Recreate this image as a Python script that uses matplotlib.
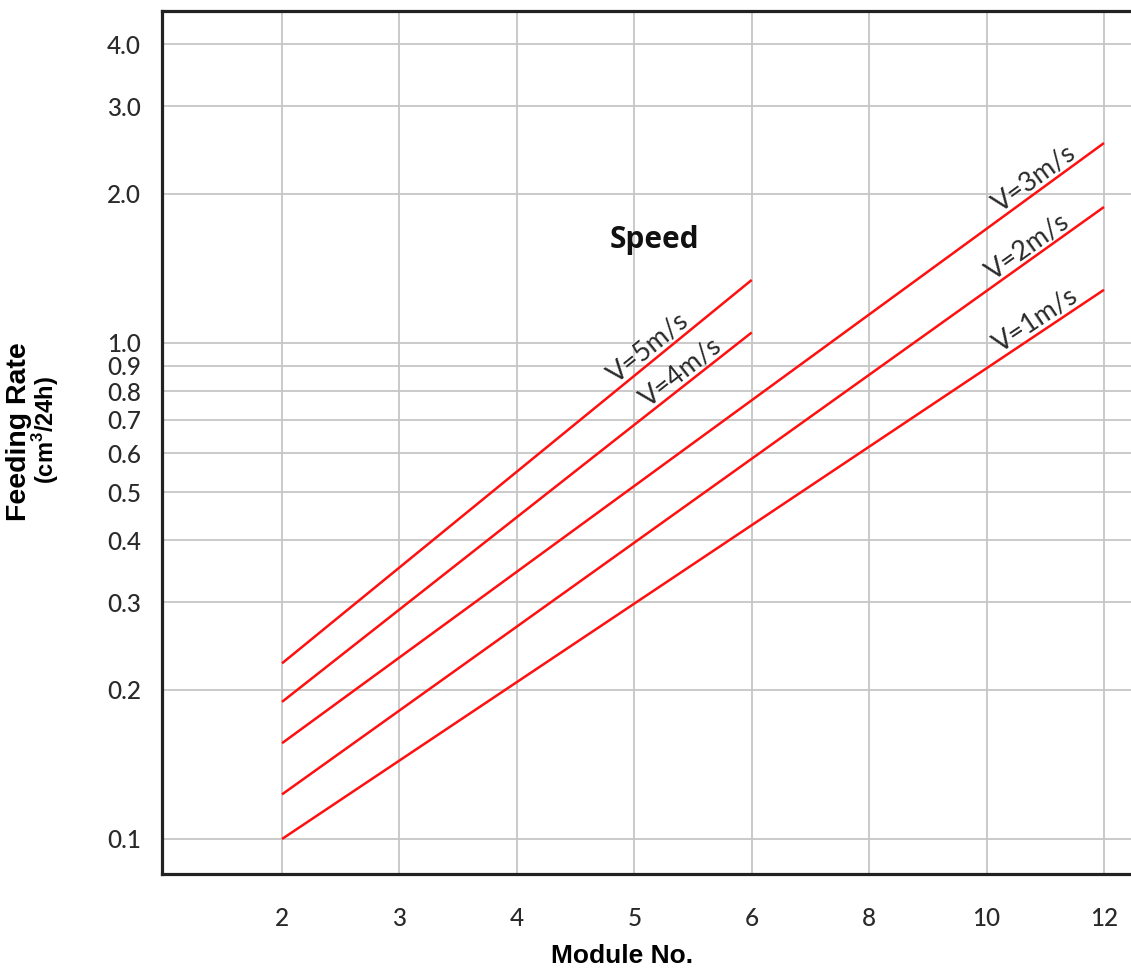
import matplotlib
matplotlib.use('Agg')
import matplotlib.pyplot as plt
import numpy as np

plt.rcParams['mathtext.fontset'] = 'custom'
plt.rcParams['mathtext.rm'] = 'Liberation Sans:bold'

# module numbers are spaced evenly on the x axis
modules = ['2', '3', '4', '5', '6', '8', '10', '12']
y_ticks = [0.1, 0.2, 0.3, 0.4, 0.5, 0.6, 0.7, 0.8, 0.9, 1.0, 2.0, 3.0, 4.0]
y_labels = ['0.1', '0.2', '0.3', '0.4', '0.5', '0.6', '0.7', '0.8', '0.9', '1.0', '2.0', '3.0', '4.0']

speeds = ['V=5m/s', 'V=4m/s', 'V=3m/s', 'V=2m/s', 'V=1m/s']
start_module = ['2', '2', '2', '2', '2']
end_module = ['6', '6', '12', '12', '12']
start_rate = [0.226, 0.189, 0.156, 0.123, 0.100]
end_rate = [1.34, 1.05, 2.53, 1.88, 1.28]
# where along the x axis each speed label sits
label_pos = [3.19, 3.46, 6.47, 6.41, 6.48]

W, H = 1131, 969
fig = plt.figure(figsize=(W / 100, H / 100), dpi=100)
ax = fig.add_axes([162 / W, (H - 874) / H, (W - 162) / W, (874 - 11) / H])

ax.set_yscale('log')
ax.set_xlim(-1.022, 7.23)
ax.set_ylim(0.0850, 4.67)

for i in range(len(speeds)):
    x0 = modules.index(start_module[i])
    x1 = modules.index(end_module[i])
    ax.plot([x0, x1], [start_rate[i], end_rate[i]], color='#ff1010', lw=1.8,
            solid_capstyle='butt', zorder=3)

ax.set_xticks(range(len(modules)), modules)
ax.set_yticks(y_ticks, y_labels)
ax.minorticks_off()
ax.grid(True, color='#c6c6c6', lw=1.3)
ax.set_axisbelow(True)
ax.tick_params(length=0, labelsize=17.5, labelcolor='#2a2a2a')
ax.tick_params(axis='y', pad=15)
ax.tick_params(axis='x', pad=24)
for lab in ax.get_xticklabels() + ax.get_yticklabels():
    lab.set_family('Lato')
    lab.set_fontweight('medium')

for side in ['left', 'bottom', 'top']:
    ax.spines[side].set_linewidth(2.3)
    ax.spines[side].set_color('#222222')
ax.spines['right'].set_visible(False)

# speed labels along the lines
for i in range(len(speeds)):
    x0 = modules.index(start_module[i])
    x1 = modules.index(end_module[i])
    p0 = ax.transData.transform((x0, start_rate[i]))
    p1 = ax.transData.transform((x1, end_rate[i]))
    ang = np.degrees(np.arctan2(p1[1] - p0[1], p1[0] - p0[0]))
    t = (label_pos[i] - x0) / (x1 - x0)
    yv = np.exp(np.log(start_rate[i]) + t * (np.log(end_rate[i]) - np.log(start_rate[i])))
    ax.text(label_pos[i], yv, speeds[i], rotation=ang, rotation_mode='anchor',
            ha='center', va='bottom', fontsize=19.5, family='Lato', color='#2a2a2a')

ax.text(3.17, 1.61, 'Speed', ha='center', va='center', fontsize=21.5,
        fontweight='bold', family='Open Sans', color='#111111')

fig.text(622 / W, 1 - 956 / H, 'Module No.', ha='center', va='center',
         fontsize=19, fontweight='bold', family='Liberation Sans')
fig.text(19 / W, 1 - 432 / H, 'Feeding Rate', ha='center', va='center', rotation=90,
         fontsize=20.5, fontweight='bold', family='Liberation Sans')
fig.text(46 / W, 1 - 430 / H, '(cm$^\\mathrm{3}$/24h)', ha='center', va='center', rotation=90,
         fontsize=17, fontweight='bold', family='Liberation Sans')

fig.savefig('out.png', dpi=100)
